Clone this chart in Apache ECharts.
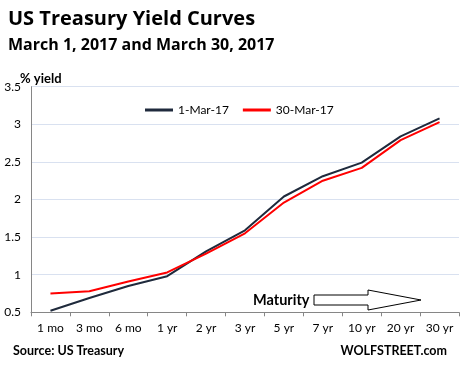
<!DOCTYPE html>
<html><head><meta charset="utf-8">
<script src="https://cdn.jsdelivr.net/npm/echarts@6/dist/echarts.min.js"></script>
<style>html,body{margin:0;padding:0;background:#fff}#c{width:462px;height:369px}</style>
</head><body><div id="c"></div>
<script>
const categories = ['1 mo','3 mo','6 mo','1 yr','2 yr','3 yr','5 yr','7 yr','10 yr','20 yr','30 yr'];
const mar1 = [0.52,0.69,0.85,0.98,1.31,1.59,2.04,2.31,2.49,2.84,3.08];
const mar30 = [0.75,0.78,0.91,1.03,1.28,1.55,1.96,2.25,2.42,2.79,3.03];
const F = 'Lato, "Open Sans", sans-serif';
const FB = '"Open Sans", Lato, sans-serif';
const chart = echarts.init(document.getElementById('c'));
chart.setOption({
  animation:false,
  backgroundColor:'#fff',
  title:[
    {text:'US Treasury Yield Curves',left:3,top:4,textStyle:{fontFamily:FB,fontSize:20,fontWeight:'bold',color:'#000'}},
    {text:'March 1, 2017 and March 30, 2017',left:3,top:32,textStyle:{fontFamily:FB,fontSize:16,fontWeight:'bold',color:'#000'}},
    {text:'% yield',left:15,top:67,textStyle:{fontFamily:F,fontSize:13,fontWeight:'bold',color:'#000'}},
    {text:'Source: US Treasury',left:8,top:339,textStyle:{fontFamily:F,fontSize:12.5,fontWeight:'bold',color:'#000'}},
    {text:'WOLFSTREET.com',right:10,top:339,textStyle:{fontFamily:F,fontSize:12.5,fontWeight:'bold',color:'#000'}},
    {text:'Maturity',left:248,top:288,textStyle:{fontFamily:F,fontSize:14.5,fontWeight:'bold',color:'#000'}}
  ],
  legend:{top:99,left:140,itemWidth:28,itemHeight:3,itemGap:14,icon:'rect',
    textStyle:{fontFamily:F,fontSize:12,color:'#000'},data:['1-Mar-17','30-Mar-17']},
  grid:{left:31,right:3,top:86.7,bottom:56.7},
  xAxis:{type:'category',data:categories,boundaryGap:true,
    axisLine:{lineStyle:{color:'#868686'}},
    axisTick:{show:true,length:4,lineStyle:{color:'#868686'}},
    axisLabel:{fontFamily:F,fontSize:12,color:'#000',margin:10}},
  yAxis:{type:'value',min:0.5,max:3.5,interval:0.5,
    axisLine:{show:true,lineStyle:{color:'#868686'}},
    axisTick:{show:false},
    splitLine:{lineStyle:{color:'#d9e1f0'}},
    axisLabel:{fontFamily:F,fontSize:12,color:'#000',margin:10,
      formatter:v=>String(v)}},
  series:[
    {name:'1-Mar-17',type:'line',data:mar1,symbol:'none',lineStyle:{color:'#1f2a3c',width:2},itemStyle:{color:'#1f2a3c'}},
    {name:'30-Mar-17',type:'line',data:mar30,symbol:'none',lineStyle:{color:'#ff0000',width:2},itemStyle:{color:'#ff0000'}}
  ],
  graphic:[
    {type:'polygon',shape:{points:[[314,295],[368,295],[368,290],[421,300],[368,310],[368,305],[314,305]]},
     style:{fill:'#fff',stroke:'#000',lineWidth:1}}
  ]
});
</script></body></html>
